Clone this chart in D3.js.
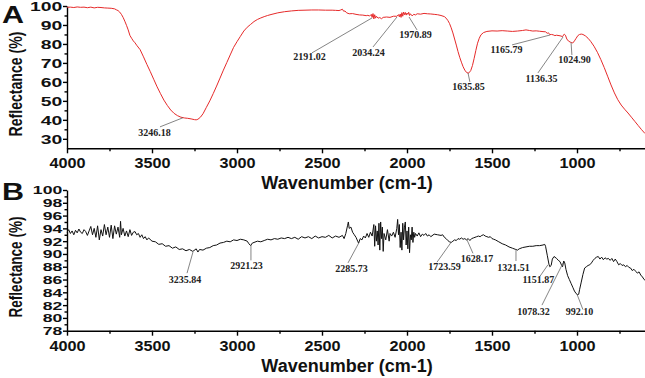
<!DOCTYPE html>
<html>
<head>
<meta charset="utf-8">
<script src="https://cdn.jsdelivr.net/npm/d3@7"></script>
<style>
  body { margin: 0; background: #fff; }
  svg { display: block; }
  .axis path, .axis line { stroke: #000; stroke-width: 1.4; }
  .axis text { font-family: "Liberation Sans", Arial, sans-serif; font-weight: bold; fill: #111; }
  .title { font-family: "Liberation Sans", Arial, sans-serif; font-weight: bold; fill: #111; }
  .peak { font-family: "Liberation Serif", "Times New Roman", serif; font-weight: bold; font-size: 10px; fill: #222; }
</style>
</head>
<body>
<svg id="chart" width="645" height="378"></svg>
<script>
// ---- data ----
const waveA = [4000,3980,3960,3940,3920,3900,3880,3860,3840,3820,3800,3780,3760,3740,3720,3710,3700,3690,3680,3670,3660,3650,3640,3630,3620,3610,3600,3590,3570,3550,3530,3510,3490,3470,3450,3430,3410,3390,3370,3350,3330,3310,3290,3270,3250,3240,3230,3215,3200,3180,3160,3140,3120,3100,3080,3060,3040,3020,3000,2980,2960,2940,2920,2900,2880,2860,2840,2820,2800,2760,2720,2680,2640,2600,2560,2520,2480,2440,2420,2400,2390,2380,2372,2365,2355,2340,2320,2300,2280,2260,2240,2230,2220,2210,2205,2200,2195,2190,2185,2180,2170,2160,2150,2140,2120,2100,2080,2060,2050,2045,2040,2035,2030,2025,2020,2015,2010,2005,2000,1995,1990,1985,1980,1970,1960,1950,1940,1920,1900,1880,1860,1840,1820,1800,1780,1770,1760,1750,1740,1730,1720,1710,1700,1690,1680,1670,1660,1650,1640,1635,1625,1615,1605,1595,1585,1575,1565,1550,1530,1500,1470,1440,1410,1380,1350,1320,1300,1280,1260,1240,1220,1200,1185,1175,1168,1160,1150,1140,1130,1120,1100,1085,1075,1068,1060,1050,1040,1030,1025,1015,1005,995,985,975,965,950,935,920,900,880,860,840,820,800,780,760,740,720,700,680,660,640,620,600];
const reflA = [99.3,99.4,99.2,99.5,99.3,99.4,99.1,99.4,99.0,99.3,99.2,99.0,98.9,98.8,98.5,98.0,97.6,96.8,95.6,94.0,92.0,89.8,87.4,84.5,83.0,81.6,80.6,79.3,77.0,73.2,69.2,65.4,61.4,57.4,53.8,50.4,47.6,45.2,43.4,42.2,41.4,41.0,40.8,40.5,40.1,40.0,40.3,41.4,43.2,46.6,50.0,53.8,57.8,62.0,66.2,70.2,74.2,78.2,81.2,84.0,86.8,88.8,90.3,91.8,92.9,93.7,94.4,95.0,95.5,96.4,97.0,97.4,97.7,97.8,97.9,97.9,97.8,97.8,97.7,97.6,97.9,98.3,97.2,97.4,96.4,95.9,96.0,95.6,95.3,95.2,94.9,95.1,94.7,95.6,94.0,96.0,93.2,95.4,93.6,94.6,93.6,93.9,93.3,94.0,94.2,94.0,94.6,94.6,95.4,94.3,95.8,94.0,96.5,94.6,96.8,95.4,96.6,95.2,96.3,95.6,96.7,95.0,95.9,94.8,95.6,95.3,95.9,95.7,96.1,95.9,95.8,95.6,95.4,95.0,94.4,93.6,92.4,90.8,88.5,85.8,82.6,79.4,76.0,73.0,70.4,68.0,66.2,65.0,64.6,64.8,66.0,68.6,72.4,76.6,80.4,83.0,84.8,86.0,86.6,86.9,86.8,87.0,86.8,86.6,86.8,87.1,87.4,87.1,86.8,86.9,86.7,86.5,86.4,85.6,85.9,84.9,85.0,84.8,84.4,84.6,84.3,83.9,85.2,84.6,82.6,81.5,81.0,80.6,80.5,81.6,83.0,84.4,85.0,85.2,85.0,84.2,83.0,81.4,78.8,75.6,71.8,67.6,63.0,58.4,54.2,50.6,47.8,45.6,43.6,41.4,39.2,37.0,34.8,32.8];

const waveB = [4000,3990,3980,3970,3960,3950,3940,3930,3920,3910,3900,3890,3880,3870,3860,3850,3840,3830,3820,3810,3800,3790,3780,3770,3760,3750,3740,3730,3720,3710,3700,3690,3685,3680,3670,3660,3650,3640,3630,3620,3610,3600,3590,3580,3570,3560,3550,3540,3530,3520,3500,3480,3460,3440,3420,3400,3380,3360,3340,3320,3300,3280,3260,3240,3230,3220,3200,3180,3160,3140,3120,3100,3080,3060,3040,3020,3000,2980,2960,2940,2930,2920,2910,2900,2880,2860,2840,2820,2800,2780,2760,2740,2720,2700,2680,2660,2640,2620,2600,2580,2560,2540,2520,2500,2480,2460,2440,2420,2400,2380,2370,2360,2350,2345,2340,2330,2320,2310,2300,2290,2285,2275,2265,2255,2245,2235,2225,2215,2205,2195,2190,2185,2180,2175,2170,2165,2160,2155,2150,2145,2140,2135,2125,2115,2105,2100,2090,2080,2070,2060,2055,2050,2045,2040,2035,2030,2025,2020,2015,2010,2005,2000,1995,1990,1985,1980,1975,1970,1965,1960,1955,1950,1940,1930,1920,1910,1900,1890,1880,1870,1860,1840,1820,1800,1790,1780,1770,1760,1750,1740,1730,1720,1710,1700,1690,1680,1670,1660,1650,1640,1630,1620,1610,1600,1590,1580,1570,1560,1550,1540,1530,1520,1510,1500,1490,1480,1460,1440,1420,1400,1380,1360,1350,1340,1320,1300,1280,1260,1240,1220,1200,1190,1185,1175,1165,1160,1152,1145,1135,1120,1110,1100,1090,1085,1078,1072,1065,1055,1045,1035,1025,1015,1005,995,990,985,975,965,955,945,935,925,915,905,895,885,875,865,855,845,835,825,815,805,795,785,775,765,755,745,735,725,715,705,695,685,675,665,655,645,635,625,615,605,600];
const reflB = [93.4,93.8,93.2,93.6,93.0,93.7,93.3,93.9,93.4,93.2,93.8,93.5,92.9,93.6,94.3,93.0,94.0,92.6,94.4,92.2,93.8,92.8,94.6,93.0,94.2,92.6,94.5,92.4,94.4,93.1,94.2,92.6,95.1,93.0,94.0,92.8,93.6,92.7,93.8,92.9,93.4,93.5,93.0,93.2,92.6,93.0,92.4,92.7,92.2,92.5,92.0,91.9,91.5,91.6,91.2,91.3,90.9,91.1,90.7,90.8,90.5,90.7,90.4,90.8,90.3,90.7,90.6,90.9,91.0,91.3,91.4,91.7,91.8,92.0,91.9,92.2,92.1,92.3,92.2,92.0,91.6,91.3,91.7,91.8,92.0,91.9,92.1,92.3,92.2,92.4,92.3,92.5,92.4,92.6,92.4,92.6,92.3,92.7,92.5,92.7,92.4,92.8,92.5,92.7,92.6,92.9,92.5,92.8,92.6,92.9,92.4,93.2,94.4,95.0,94.0,94.2,93.4,93.0,92.6,92.0,91.7,92.4,92.2,92.8,92.5,93.2,92.6,93.4,92.8,94.6,91.2,94.4,92.0,93.6,91.4,94.8,90.6,95.0,92.4,94.2,90.4,93.2,92.2,93.8,92.0,93.2,92.8,93.4,92.6,94.0,95.4,93.0,94.6,91.0,93.4,90.6,94.8,92.2,94.2,95.0,91.4,93.6,90.8,94.2,90.2,93.0,92.2,94.2,91.8,93.4,92.6,93.2,92.8,93.3,92.7,93.1,92.9,93.2,92.8,93.0,92.7,93.1,93.0,92.9,93.0,92.6,92.4,92.1,91.9,91.8,92.0,92.2,92.1,92.4,92.3,92.5,92.3,92.4,92.2,92.4,92.1,92.4,92.5,92.6,92.7,92.8,92.7,92.9,93.0,92.8,92.7,92.6,92.7,92.4,92.3,92.2,91.9,91.6,91.4,91.1,90.9,90.7,90.6,90.8,91.0,91.1,91.2,91.2,91.3,91.3,91.4,91.5,91.2,89.8,88.4,88.0,88.2,89.2,89.6,89.3,89.0,88.8,88.2,88.0,88.9,88.6,87.6,86.6,86.0,85.4,84.8,84.2,83.8,83.6,83.7,84.4,85.6,86.8,87.8,88.0,88.2,88.3,88.6,89.0,89.3,89.5,89.6,89.2,89.5,89.1,89.4,89.2,89.3,89.0,89.3,88.8,89.2,88.8,88.3,88.5,88.2,88.3,88.0,88.2,87.9,87.8,87.4,87.6,87.3,87.0,87.2,86.7,86.4,86.0,85.9];

// peak annotations: label, text position (wavenumber, %), leader start, leader end on the curve
const peakLabelsA = ["3246.18","2191.02","2034.24","1970.89","1635.85","1165.79","1136.35","1024.90"];
const peakTextA   = [[3485,31.3],[2574,71.3],[2227,73.9],[1950,82.9],[1638,55.5],[1415,75.0],[1209,59.7],[1015,69.7]];
const peakFromA   = [[3453,36.3],[2559,75.3],[2200,78.4],[1941,87.4],[1630,60.0],[1382,79.5],[1230,64.7],[1030,74.2]];
const peakToA     = [[3318,41.1],[2206,93.7],[2059,94.2],[1988,94.2],[1641,64.7],[1159,84.7],[1082,83.7],[1035,80.8]];

const peakLabelsB = ["3235.84","2921.23","2285.73","1723.59","1628.17","1321.51","1151.87","1078.32","992.10"];
const peakTextB   = [[3306,85.5],[2944,87.7],[2327,87.2],[1780,87.55],[1588,88.8],[1374,87.4],[1227,85.4],[1256,80.4],[985,80.5]];
const peakFromB   = [[3294,87.0],[2918,89.0],[2347,88.6],[1824,88.7],[1612,90.1],[1359,88.9],[1218,86.5],[1206,82.0],[965,81.3]];
const peakToB     = [[3259,90.3],[2918,91.4],[2282,91.8],[1741,91.8],[1647,92.2],[1359,90.6],[1171,88.3],[1082,88.6],[1000,83.7]];

const xMajor = [4000,3500,3000,2500,2000,1500,1000];
const xMinor = [3750,3250,2750,2250,1750,1250,750];
const yMajorA = [30,40,50,60,70,80,90,100];
const yMajorB = [78,80,82,84,86,88,90,92,94,96,98,100];

const svg = d3.select("#chart");

const x = d3.scaleLinear().domain([4000, 600]).range([67, 645]);

function drawPanel(opt) {
    const y = d3.scaleLinear().domain(opt.yDomain).range([opt.bottom, opt.top]);
    const g = svg.append("g");

    // minor ticks first
    g.append("g").attr("class", "axis")
        .attr("transform", `translate(0,${opt.bottom})`)
        .call(d3.axisBottom(x).tickValues(xMinor).tickSize(3).tickFormat(""))
        .select(".domain").remove();
    g.append("g").attr("class", "axis")
        .attr("transform", `translate(67,0)`)
        .call(d3.axisLeft(y).tickValues(opt.yMinor).tickSize(2.5).tickFormat(""))
        .select(".domain").remove();

    const xa = g.append("g").attr("class", "axis")
        .attr("transform", `translate(0,${opt.bottom})`)
        .call(d3.axisBottom(x).tickValues(xMajor).tickSize(5).tickSizeOuter(0).tickFormat(d3.format("d")));
    xa.selectAll("text")
        .attr("y", 20).attr("dy", null)
        .style("font-size", "15px")
        .attr("transform", "scale(1.08,1)");

    const ya = g.append("g").attr("class", "axis")
        .attr("transform", `translate(67,0)`)
        .call(d3.axisLeft(y).tickValues(opt.yMajor).tickSize(4).tickSizeOuter(0));
    ya.selectAll("text")
        .attr("x", -3).attr("dy", "0.36em")
        .style("font-size", opt.yFont + "px")
        .attr("transform", `scale(${opt.yStretch},1)`);

    const line = d3.line().x((d, i) => x(opt.waves[i])).y(d => y(d));
    g.append("path")
        .datum(opt.values)
        .attr("d", line)
        .attr("fill", "none")
        .attr("stroke", opt.color)
        .attr("stroke-width", 1)
        .attr("stroke-linejoin", "round");

    // peak labels
    opt.labels.forEach((lab, i) => {
        g.append("line")
            .attr("x1", x(opt.from[i][0])).attr("y1", y(opt.from[i][1]))
            .attr("x2", x(opt.to[i][0])).attr("y2", y(opt.to[i][1]))
            .attr("stroke", "#666").attr("stroke-width", 0.8);
        g.append("text").attr("class", "peak")
            .attr("x", x(opt.text[i][0])).attr("y", y(opt.text[i][1]))
            .attr("text-anchor", "middle")
            .text(lab);
    });

    // titles
    g.append("text").attr("class", "title")
        .attr("x", 347).attr("y", opt.bottom + 41)
        .attr("text-anchor", "middle")
        .style("font-size", "18px")
        .text("Wavenumber (cm-1)");
    g.append("text").attr("class", "title")
        .attr("transform", `translate(22,${opt.yTitleMid}) rotate(-90)`)
        .attr("text-anchor", "middle")
        .attr("textLength", opt.yTitleLen).attr("lengthAdjust", "spacingAndGlyphs")
        .style("font-size", "18px")
        .text("Reflectance (%)");
    g.append("text").attr("class", "title")
        .attr("x", 2).attr("y", opt.letterY)
        .attr("textLength", 22).attr("lengthAdjust", "spacingAndGlyphs")
        .style("font-size", "24px")
        .text(opt.letter);
}

drawPanel({
    yDomain: [25, 100], top: 6, bottom: 148.3,
    yMajor: yMajorA, yMinor: [35,45,55,65,75,85,95], yFont: 12.5, yStretch: 1.55,
    waves: waveA, values: reflA, color: "#e62a2a",
    labels: peakLabelsA, text: peakTextA, from: peakFromA, to: peakToA,
    yTitleMid: 84, yTitleLen: 105, letter: "A", letterY: 23
});

drawPanel({
    yDomain: [78, 100], top: 190, bottom: 330.7,
    yMajor: yMajorB, yMinor: [79,81,83,85,87,89,91,93,95,97,99], yFont: 11, yStretch: 1.6,
    waves: waveB, values: reflB, color: "#111",
    labels: peakLabelsB, text: peakTextB, from: peakFromB, to: peakToB,
    yTitleMid: 267, yTitleLen: 101, letter: "B", letterY: 200
});
</script>
</body>
</html>
